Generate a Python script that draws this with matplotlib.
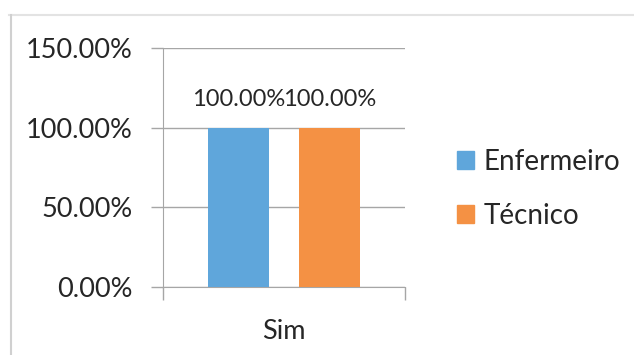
import matplotlib
matplotlib.use('Agg')
import matplotlib.pyplot as plt
from matplotlib.patches import Patch
from matplotlib.lines import Line2D
import numpy as np

# data
categories = ['Sim']
series_names = ['Enfermeiro', 'Técnico']
enfermeiro = [1.00]
tecnico = [1.00]
colors = ['#5FA6DB', '#F49144']
y_ticks = [0.0, 0.5, 1.0, 1.5]

plt.rcParams['font.family'] = ['Lato', 'DejaVu Sans']

W, H = 634, 355
fig = plt.figure(figsize=(W / 100, H / 100), dpi=100)

# light grey frame round the chart (top and left edges visible)
fig.add_artist(Line2D([9 / W, 1], [1 - 15 / H, 1 - 15 / H], color='#e3e3e3', lw=1.5))
fig.add_artist(Line2D([11 / W, 11 / W], [0, 1 - 15 / H], color='#d0d0d0', lw=1.5))

# plot area in pixels
left, right, top, bottom = 163, 405, 48, 287
ax = fig.add_axes([left / W, 1 - bottom / H, (right - left) / W, (bottom - top) / H])

x = np.arange(len(categories))
width = 61 / 242
gap = 30 / 242
pos1 = x - (width + gap) / 2
pos2 = x + (width + gap) / 2
b1 = ax.bar(pos1, enfermeiro, width, color=colors[0], label=series_names[0], zorder=3)
b2 = ax.bar(pos2, tecnico, width, color=colors[1], label=series_names[1], zorder=3)

for bars in (b1, b2):
    for rect in bars:
        ax.text(rect.get_x() + rect.get_width() / 2, rect.get_height() + 0.11,
                '{:.2f}%'.format(rect.get_height() * 100), ha='center', va='bottom',
                fontsize=17, color='#262626', zorder=4)

ax.set_xlim(-0.5, 0.5)
ax.set_ylim(0, 1.5)
ax.set_yticks(y_ticks)
ax.set_yticklabels(['{:.2f}%'.format(v * 100) for v in y_ticks], fontsize=19.5, color='#262626')
ax.yaxis.grid(True, color='#a6a6a6', lw=1, zorder=0)
ax.tick_params(axis='y', length=9, color='#a6a6a6', width=1, pad=13)

ax.set_xticks([-0.5, 0.5], minor=True)
ax.set_xticks(x)
ax.set_xticklabels(categories, fontsize=19.5, color='#262626')
ax.tick_params(axis='x', which='major', length=0, pad=23)
ax.tick_params(axis='x', which='minor', length=9, color='#a6a6a6', width=1)

for s in ['top', 'right']:
    ax.spines[s].set_visible(False)
ax.spines['left'].set_color('#a6a6a6')
ax.spines['bottom'].set_color('#a6a6a6')

handles = [Patch(color=c, label=n) for c, n in zip(colors, series_names)]
fig.legend(handles=handles, loc='center left', bbox_to_anchor=(432 / W, 1 - 189 / H),
           frameon=False, fontsize=20, handlelength=0.6, handleheight=0.6,
           handletextpad=0.35, labelspacing=1.0, labelcolor='#262626')

fig.savefig('out.png', dpi=100)
